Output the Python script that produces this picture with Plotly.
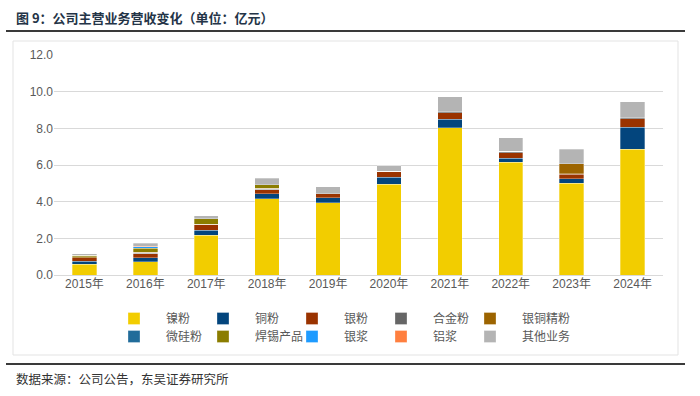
import plotly.graph_objects as go

years = ["2015年", "2016年", "2017年", "2018年", "2019年", "2020年", "2021年", "2022年", "2023年", "2024年"]
series_names = ["镍粉", "铜粉", "银粉", "合金粉", "银铜精粉", "微硅粉", "焊锡产品", "银浆", "铝浆", "其他业务"]
nickel = [0.58, 0.73, 2.18, 4.17, 3.95, 4.96, 8.02, 6.15, 5.00, 6.86]
copper = [0.18, 0.22, 0.27, 0.27, 0.27, 0.37, 0.47, 0.21, 0.24, 1.21]
silver = [0.17, 0.21, 0.29, 0.20, 0.20, 0.31, 0.35, 0.31, 0.25, 0.44]
alloy = [0.02, 0.02, 0.01, 0.03, 0.02, 0.02, 0.07, 0.09, 0.03, 0.07]
silver_copper = [0.04, 0.05, 0.02, 0.06, 0.0, 0.0, 0.0, 0.0, 0.55, 0.0]
micro_silicon = [0.0, 0.02, 0.0, 0.0, 0.0, 0.0, 0.0, 0.0, 0.0, 0.0]
tin = [0.10, 0.22, 0.29, 0.20, 0.0, 0.0, 0.0, 0.0, 0.0, 0.0]
silver_paste = [0.0, 0.07, 0.0, 0.0, 0.0, 0.0, 0.0, 0.0, 0.0, 0.0]
aluminum_paste = [0.0, 0.02, 0.0, 0.0, 0.0, 0.0, 0.0, 0.0, 0.0, 0.0]
other = [0.06, 0.16, 0.18, 0.34, 0.38, 0.30, 0.82, 0.73, 0.80, 0.88]
y_ticks = [0, 2, 4, 6, 8, 10, 12]
y_tick_labels = ["0.0", "2.0", "4.0", "6.0", "8.0", "10.0", "12.0"]

values = [nickel, copper, silver, alloy, silver_copper, micro_silicon, tin,
          silver_paste, aluminum_paste, other]
colors = ["#F2CD00", "#03457D", "#9A3300", "#666666", "#9C6400", "#216C9A",
          "#8B7D00", "#1E9BFF", "#FF7F3F", "#B4B4B4"]

W, H = 700, 396
L, R, T, B = 54, 37, 55, 121
PW, PH = W - L - R, H - T - B


def px(x):
    return (x - L) / PW


def py(y):
    return (H - B - y) / PH


fig = go.Figure()
for i, (name, vals, col) in enumerate(zip(series_names, values, colors)):
    fig.add_trace(go.Bar(x=years, y=vals, name=name,
                         legend="legend" if i < 5 else "legend2",
                         marker=dict(color=col, line=dict(color="rgba(255,255,255,0.6)", width=0.5))))

# invisible spacer entries so the last legend label of each row is not clipped
for lg in ["legend", "legend2"]:
    fig.add_trace(go.Scatter(x=[None], y=[None], name=" ", legend=lg, mode="markers",
                             hoverinfo="skip", showlegend=True,
                             marker=dict(color="rgba(0,0,0,0)", size=1)))

text_font = "Liberation Sans, Noto Sans CJK SC, sans-serif"
cjk_font = "Noto Sans CJK SC, sans-serif"

legend_common = dict(
    orientation="h",
    xanchor="left", yanchor="top",
    entrywidth=20, entrywidthmode="pixels",
    itemwidth=54,
    font=dict(family=cjk_font, size=12, color="#595959"),
    traceorder="normal",
    bgcolor="rgba(0,0,0,0)",
    tracegroupgap=0,
)

fig.update_layout(
    width=W, height=H,
    margin=dict(l=L, r=R, t=T, b=B, pad=0),
    barmode="stack",
    bargap=0.6,
    plot_bgcolor="white",
    paper_bgcolor="white",
    showlegend=True,
    legend=dict(legend_common, x=px(102), y=py(304)),
    legend2=dict(legend_common, x=px(102), y=py(322)),
    xaxis=dict(
        showgrid=False, showline=False, zeroline=False, ticks="",
        tickfont=dict(family=text_font, size=12, color="#595959"),
    ),
    yaxis=dict(
        range=[0, 12], tickvals=y_ticks, ticktext=y_tick_labels,
        showgrid=True, gridcolor="#D9D9D9", gridwidth=1,
        zeroline=True, zerolinecolor="#D9D9D9", zerolinewidth=1,
        showline=False, ticks="",
        tickfont=dict(family=text_font, size=12, color="#595959"),
    ),
    shapes=[
        dict(type="rect", xref="paper", yref="paper",
             x0=px(13), x1=px(678), y0=py(41), y1=py(355),
             line=dict(color="#E3E3E3", width=1), layer="below"),
        dict(type="line", xref="paper", yref="paper",
             x0=px(6), x1=px(685), y0=py(31), y1=py(31),
             line=dict(color="#3A3A3A", width=2)),
        dict(type="line", xref="paper", yref="paper",
             x0=px(6), x1=px(685), y0=py(364), y1=py(364),
             line=dict(color="#3A3A3A", width=2)),
    ],
    annotations=[
        dict(text="<b>图 9：公司主营业务营收变化（单位：亿元）</b>",
             xref="paper", yref="paper", x=px(14), y=py(17),
             xanchor="left", yanchor="middle", showarrow=False,
             font=dict(family=cjk_font, size=13, color="#243447")),
        dict(text="数据来源：公司公告，东吴证券研究所",
             xref="paper", yref="paper", x=px(14), y=py(378),
             xanchor="left", yanchor="middle", showarrow=False,
             font=dict(family=cjk_font, size=12.5, color="#333333")),
    ],
)

fig.write_html("out.html", config={"displayModeBar": False},
               post_script="document.body.style.margin='0';")
